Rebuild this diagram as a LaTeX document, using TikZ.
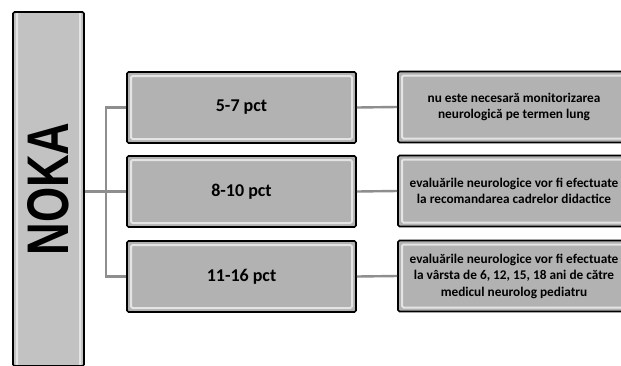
\documentclass[tikz,border=0pt]{standalone}
\usepackage{fontspec}
\setmainfont{Carlito}
\newfontfamily\heavyfont{Liberation Sans}
\usetikzlibrary{positioning, calc}
\definecolor{boxgray}{HTML}{B2B2B2}
\definecolor{bargray}{HTML}{C2C2C2}
\definecolor{linegray}{HTML}{8E8E8E}
\definecolor{bevelgray}{HTML}{E4E4E4}
\tikzset{
   bevelbox/.style={
     draw=black, line width=1.6pt, fill=boxgray, rounded corners=1.5pt,
     path picture={
       \draw[bevelgray, line width=2pt]
         ([shift={(4pt,-4pt)}]path picture bounding box.north west) rectangle
         ([shift={(-4pt,4pt)}]path picture bounding box.south east);
     }
   },
   scorebox/.style={
      bevelbox,
      minimum width=229, minimum height=71,
      font=\fontsize{18}{20}\selectfont\bfseries
   },
   advicebox/.style={
      bevelbox,
      minimum width=232, minimum height=71, align=center,
      font=\fontsize{13.3}{16.5}\selectfont\bfseries
   },
   titlebar/.style={
      bevelbox, fill=bargray, rotate=90,
      minimum width=354, minimum height=71
   },
   conn/.style={draw=linegray, line width=2.4pt}
}

\begin{document}
\begin{tikzpicture}[x=1pt, y=-1pt]
   \useasboundingbox (0,0) rectangle (621,365);
   \fill[white] (0,0) rectangle (621,365);
   \clip (0,0) rectangle (621,365);

   \node[titlebar](noka) at (48.5,189)
      {\heavyfont\bfseries\fontsize{58.7}{60}\selectfont\scalebox{0.77}[1]{NOKA}};

   \node[scorebox](p1) at (241.5,107.5) {5-7 pct};
   \node[scorebox](p2) at (241.5,191.5) {8-10 pct};
   \node[scorebox](p3) at (241.5,276.5) {11-16 pct};

   \node[advicebox](r1) at (514,107) {nu este necesară monitorizarea\\ neurologică pe termen lung};
   \node[advicebox](r2) at (514,191) {evaluările neurologice vor fi efectuate\\ la recomandarea cadrelor didactice};
   \node[advicebox](r3) at (514,276) {evaluările neurologice vor fi efectuate\\ la vârsta de 6, 12, 15, 18 ani de către\\ medicul neurolog pediatru};

   \coordinate (jn) at (106,191.5);

   \draw[conn] (noka.south |- p2) -- (p2.west);
   \draw[conn] (p1.west) -| (jn) |- (p3.west);

   \draw[conn] (p1.east) -- (r1.west);
   \draw[conn] (p2.east) -- (r2.west);
   \draw[conn] (p3.east) -- (r3.west);
\end{tikzpicture}
\end{document}
